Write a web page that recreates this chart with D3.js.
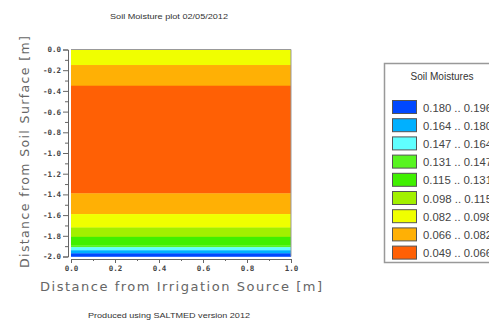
<!DOCTYPE html>
<html>
<head>
<meta charset="utf-8">
<script src="https://cdn.jsdelivr.net/npm/d3@7"></script>
<style>
  body { margin: 0; background: #fff; }
  svg { display: block; }
</style>
</head>
<body>
<svg width="489" height="321"></svg>
<script>
// depth of band edges [m] below surface, and moisture in each band
const depthBreaks = [0, 0.15, 0.35, 1.39, 1.59, 1.72, 1.81, 1.89, 1.91, 1.94, 1.97, 2.0]
const bandMoisture = [0.090, 0.074, 0.058, 0.074, 0.090, 0.106, 0.123, 0.139, 0.155, 0.172, 0.188]

// legend classes, low to high
const classLow = [0.049, 0.066, 0.082, 0.098, 0.115, 0.131, 0.147, 0.164, 0.180]
const classHigh = [0.066, 0.082, 0.098, 0.115, 0.131, 0.147, 0.164, 0.180, 0.196]
const classColors = ["#ff6005", "#ffb005", "#f0ff00", "#a2f000", "#40f000", "#58f520", "#60ffff", "#00b0ff", "#0048ff"]

const yTicks = [0, -0.2, -0.4, -0.6, -0.8, -1.0, -1.2, -1.4, -1.6, -1.8, -2.0]
const xTicks = [0, 0.2, 0.4, 0.6, 0.8, 1.0]

const svg = d3.select("svg")

const plot = {left: 71, right: 291, top: 49.5, bottom: 256.5}

const x = d3.scaleLinear().domain([0, 1]).range([plot.left, plot.right])
const y = d3.scaleLinear().domain([0, -2]).range([plot.top, plot.bottom])

const color = d3.scaleThreshold()
    .domain(classLow.slice(1))
    .range(classColors)

// bands
const bands = bandMoisture.map((m, i) => ({top: depthBreaks[i], bottom: depthBreaks[i+1], m: m}))

svg.append("g").selectAll("rect")
    .data(bands)
    .enter()
    .append("rect")
    .attr("x", x(0))
    .attr("width", x(1) - x(0))
    .attr("y", d => y(-d.top))
    .attr("height", d => y(-d.bottom) - y(-d.top) + 0.3)
    .attr("fill", d => color(d.m))

// frame on top / right
svg.append("path")
    .attr("d", `M${plot.left},${plot.top}H${plot.right}V${plot.bottom}`)
    .attr("fill", "none")
    .attr("stroke", "#999")
    .attr("stroke-width", 1)

const fmt = d => d3.format(".1f")(d).replace("−", "-")

// y axis
const yAxis = d3.axisLeft(y).tickValues(yTicks).tickSize(5).tickPadding(2).tickFormat(fmt)
svg.append("g").attr("transform", "translate(68,0)").call(yAxis)
const yMinor = d3.axisLeft(y).tickValues(d3.range(-0.1, -2, -0.2)).tickSize(3).tickFormat("")
svg.append("g").attr("transform", "translate(68,0)").call(yMinor).select(".domain").remove()

// x axis
const xAxis = d3.axisBottom(x).tickValues(xTicks).tickSize(4).tickPadding(3).tickFormat(fmt)
svg.append("g").attr("transform", "translate(0,259)").call(xAxis)
const xMinor = d3.axisBottom(x).tickValues(d3.range(0.1, 1, 0.2)).tickSize(2).tickFormat("")
svg.append("g").attr("transform", "translate(0,259)").call(xMinor).select(".domain").remove()

svg.selectAll(".tick text")
    .attr("font-family", "DejaVu Sans Mono")
    .attr("font-weight", "bold")
    .attr("font-size", 7.5)
    .attr("fill", "#444")
svg.selectAll(".domain, .tick line").attr("stroke", "#666")

// axis titles
svg.append("text")
    .attr("x", 181)
    .attr("y", 291)
    .attr("text-anchor", "middle")
    .attr("font-family", "DejaVu Sans")
    .attr("font-size", 13)
    .attr("fill", "#666")
    .attr("textLength", 282)
    .attr("lengthAdjust", "spacing")
    .text("Distance from Irrigation Source [m]")

svg.append("text")
    .attr("transform", "translate(29,152) rotate(-90)")
    .attr("text-anchor", "middle")
    .attr("font-family", "DejaVu Sans")
    .attr("font-size", 12.5)
    .attr("fill", "#666")
    .attr("textLength", 232)
    .attr("lengthAdjust", "spacing")
    .text("Distance from Soil Surface [m]")

// title and footer
svg.append("text")
    .attr("x", 169)
    .attr("y", 19)
    .attr("text-anchor", "middle")
    .attr("font-family", "Liberation Sans Narrow, Liberation Sans, sans-serif")
    .attr("font-size", 7.5)
    .attr("fill", "#333")
    .attr("textLength", 118)
    .attr("lengthAdjust", "spacingAndGlyphs")
    .text("Soil Moisture plot 02/05/2012")

svg.append("text")
    .attr("x", 169)
    .attr("y", 318)
    .attr("text-anchor", "middle")
    .attr("font-family", "Liberation Sans Narrow, Liberation Sans, sans-serif")
    .attr("font-size", 7.5)
    .attr("fill", "#333")
    .attr("textLength", 162)
    .attr("lengthAdjust", "spacingAndGlyphs")
    .text("Produced using SALTMED version 2012")

// legend
const legend = svg.append("g")

legend.append("rect")
    .attr("x", 384.5)
    .attr("y", 63.5)
    .attr("width", 120)
    .attr("height", 199)
    .attr("fill", "#fff")
    .attr("stroke", "#999")
    .attr("stroke-width", 1.5)

legend.append("text")
    .attr("x", 442)
    .attr("y", 80)
    .attr("text-anchor", "middle")
    .attr("font-family", "Liberation Sans Narrow, Liberation Sans, sans-serif")
    .attr("font-size", 10.5)
    .attr("fill", "#333")
    .attr("textLength", 63)
    .attr("lengthAdjust", "spacingAndGlyphs")
    .text("Soil Moistures")

const legendRows = classLow.map((lo, i) => ({lo: lo, hi: classHigh[i], c: classColors[i]})).reverse()

const row = legend.selectAll("g.row")
    .data(legendRows)
    .enter()
    .append("g")
    .attr("class", "row")
    .attr("transform", (d, i) => `translate(0,${100 + i * 18.2})`)

row.append("rect")
    .attr("x", 392.5)
    .attr("y", 0.5)
    .attr("width", 24)
    .attr("height", 13)
    .attr("fill", d => d.c)
    .attr("stroke", "#555")
    .attr("stroke-width", 1)

row.append("text")
    .attr("x", 423)
    .attr("y", 11.5)
    .attr("font-family", "Liberation Sans Narrow, Liberation Sans, sans-serif")
    .attr("font-size", 11.5)
    .attr("fill", "#444")
    .attr("textLength", 69)
    .attr("lengthAdjust", "spacingAndGlyphs")
    .text(d => d3.format(".3f")(d.lo) + " .. " + d3.format(".3f")(d.hi))
</script>
</body>
</html>
